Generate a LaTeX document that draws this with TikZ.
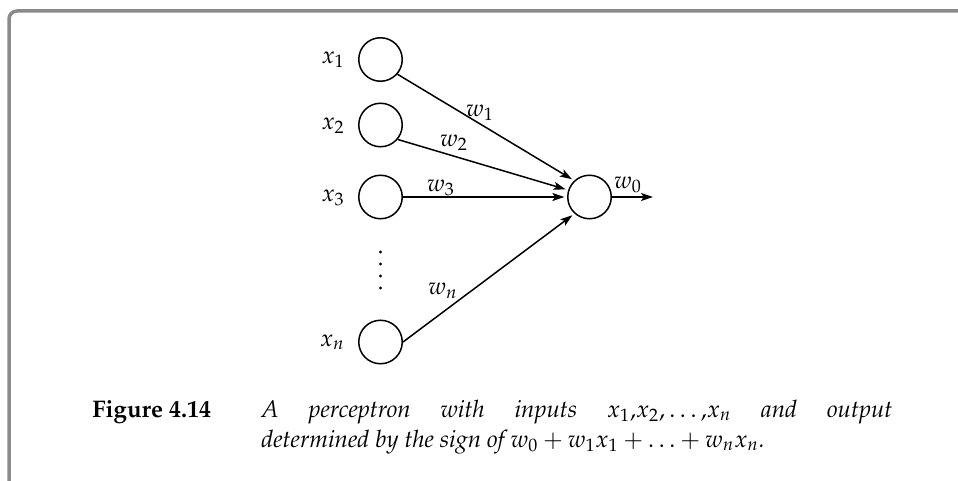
\documentclass[tikz,border=0pt]{standalone}
\usepackage[T1]{fontenc}
\usepackage{mathpazo}
\usetikzlibrary{arrows.meta}
\definecolor{framegray}{RGB}{138,138,138}
\begin{document}
\begin{tikzpicture}[x=0.5pt,y=-0.5pt,
  neuron/.style={circle,draw,line width=0.75pt,minimum size=21.75pt,inner sep=0pt},
  conn/.style={-{Stealth[length=6pt,width=4pt,inset=1.3pt]},line width=0.75pt,shorten >=1.3pt},
  lbl/.style={inner sep=0pt,font=\fontsize{12}{15}\selectfont},
  dotmark/.style={fill=black},
  framestyle/.style={draw=framegray,line width=1.75pt,rounded corners=4pt}
]
\useasboundingbox (0,0) rectangle (958,481);
\draw[framestyle] (9,481) -- (9,11) -- (958,11);

% neurons
\node[neuron] (i1) at (380.5,59.5) {};
\node[neuron] (i2) at (380.5,125) {};
\node[neuron] (i3) at (380.5,197) {};
\node[neuron] (in) at (380.5,342) {};
\node[neuron] (out) at (589.5,197) {};
\coordinate (end) at (653,197);

% input labels
\node[lbl,anchor=base east] (lx1) at (345,63.5) {$x_1$};
\node[lbl,anchor=base east] (lx2) at (345,129) {$x_2$};
\node[lbl,anchor=base east] (lx3) at (345,201) {$x_3$};
\node[lbl,anchor=base east] (lxn) at (345,346) {$x_n$};

% vertical dots
\foreach \yy in {252,264,276,288} \fill[dotmark] (380.5,\yy) circle[radius=0.85pt];

% connectors
\draw[conn] (i1.-41) -- (out.133);
\draw[conn] (i2.-40) -- (out.162);
\draw[conn] (i3.east) -- (out.west);
\draw[conn] (in.east) -- (out.228);
\draw[conn,shorten >=0pt] (out.east) -- (end);

% weight labels
\node[lbl] (w1) at (480,113) {$w_1$};
\node[lbl] (w2) at (454,143) {$w_2$};
\node[lbl] (w3) at (441,188) {$w_3$};
\node[lbl] (wn) at (443,291) {$w_n$};
\node[lbl] (w0) at (628,185) {$w_0$};

% caption
\node[lbl,anchor=base west,font=\fontsize{12}{15}\selectfont\bfseries] (fig) at (92,417) {Figure 4.14};
\node[lbl,anchor=base west,text width=315.5pt,align=justify,
      font=\fontsize{12}{15}\selectfont\itshape] (cap) at (261,417)
  {\hyphenpenalty=10000 A perceptron with inputs $x_1{,}x_2{,}\ldots{,}x_n$ and output\linebreak determined by the sign of $w_0+w_1x_1+\ldots+w_nx_n$.};
\end{tikzpicture}
\end{document}
